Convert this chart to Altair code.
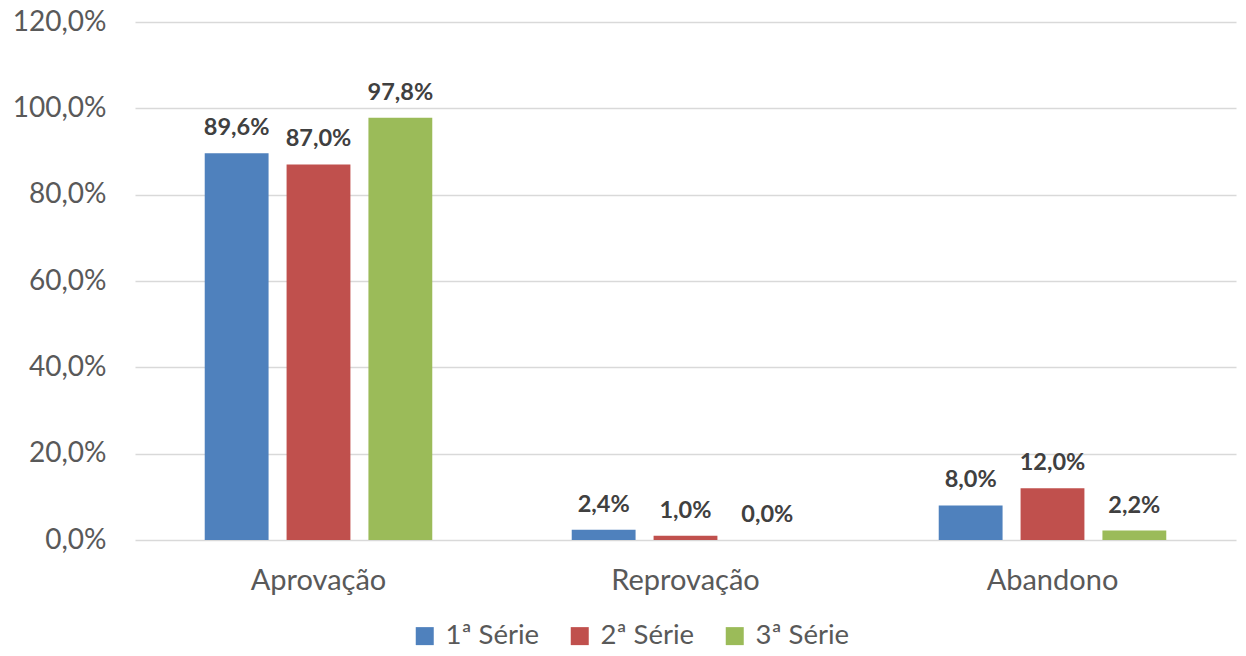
import altair as alt
import pandas as pd

categories = ["Aprovação", "Reprovação", "Abandono"]
series = ["1ª Série", "2ª Série", "3ª Série"]
serie1 = [0.896, 0.024, 0.080]
serie2 = [0.870, 0.010, 0.120]
serie3 = [0.978, 0.000, 0.022]
colors = ["#4F81BD", "#C0504D", "#9BBB59"]
y_ticks = [0, 0.2, 0.4, 0.6, 0.8, 1.0, 1.2]

rows = []
for s, vals in zip(series, [serie1, serie2, serie3]):
    for c, v in zip(categories, vals):
        rows.append({"categoria": c, "serie": s, "valor": v})
df = pd.DataFrame(rows)

FONT = "Lato"
GRAY = "#595959"

x = alt.X("categoria:N", sort=categories, title=None,
          scale=alt.Scale(paddingInner=0.38, paddingOuter=0.19),
          axis=alt.Axis(labelAngle=0, labelFontSize=29, labelColor=GRAY, labelFont=FONT,
                        labelPadding=26, ticks=False, domain=False, grid=False))
xoff = alt.XOffset("serie:N", sort=series, scale=alt.Scale(paddingInner=0.22, paddingOuter=0))
y = alt.Y("valor:Q", title=None,
          scale=alt.Scale(domain=[0, 1.2], nice=False),
          axis=alt.Axis(values=y_ticks, labelExpr="replace(format(datum.value, '.1%'), '.', ',')",
                        labelFontSize=28, labelColor=GRAY, labelFont=FONT, labelPadding=29,
                        ticks=False, domain=False, gridColor="#D9D9D9", gridWidth=1.5))
color = alt.Color("serie:N", sort=series, scale=alt.Scale(domain=series, range=colors),
                  legend=alt.Legend(title=None, orient="none", direction="horizontal",
                                    legendX=276, legendY=600, symbolType="square",
                                    symbolSize=324, symbolStrokeWidth=0, labelFontSize=27.5,
                                    labelColor=GRAY, labelFont=FONT, labelOffset=7,
                                    columnPadding=26, labelLimit=300))

bars = alt.Chart(df).mark_bar().encode(x=x, xOffset=xoff, y=y, color=color)
labels = alt.Chart(df).mark_text(dy=-13, baseline="bottom", fontWeight="bold", fontSize=23.5,
                                 font=FONT, color="#404040").encode(
    x=x, xOffset=xoff, y=y,
    text=alt.Text("label:N"))
labels = labels.transform_calculate(label="replace(format(datum.valor, '.1%'), '.', ',')")

chart = alt.layer(bars, labels).properties(
    width=1101, height=518,
    background="white",
    autosize=alt.AutoSizeParams(type="none"),
    padding={"left": 127, "top": 14, "right": 2, "bottom": 108},
).configure_view(stroke=None)

chart.save("out.html", embed_options={"renderer": "svg", "actions": False})
